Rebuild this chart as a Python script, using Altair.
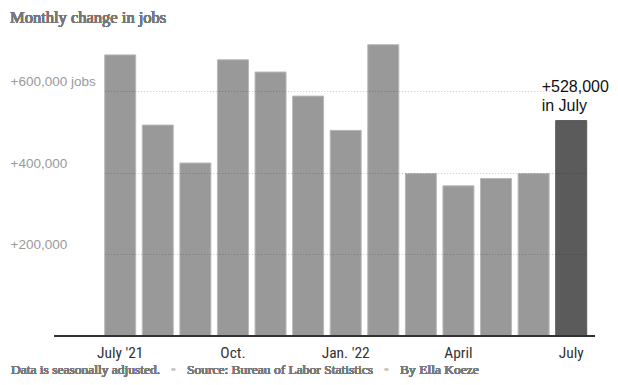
import altair as alt
import pandas as pd

months = ["Jul 2021", "Aug 2021", "Sep 2021", "Oct 2021", "Nov 2021", "Dec 2021",
          "Jan 2022", "Feb 2022", "Mar 2022", "Apr 2022", "May 2022", "Jun 2022", "Jul 2022"]
jobs = [689000, 517000, 424000, 677000, 647000, 588000,
        504000, 714000, 398000, 368000, 386000, 398000, 528000]
highlight = ["past"] * 12 + ["latest"]

tick_months = ["Jul 2021", "Oct 2021", "Jan 2022", "Apr 2022", "Jul 2022"]
tick_labels = ["July '21", "Oct.", "Jan. '22", "April", "July"]
y_ticks = [200000, 400000, 600000]
y_tick_labels = ["+200,000", "+400,000", "+600,000 jobs"]

title_text = "Monthly change in jobs"
annot_lines = ["+528,000", "in July"]
footer_parts = ["Data is seasonally adjusted.", "Source: Bureau of Labor Statistics", "By Ella Koeze"]

df = pd.DataFrame({"month": months, "jobs": jobs, "group": highlight})

sans = "Liberation Sans, Arial, sans-serif"
narrow = "Liberation Sans Narrow, Roboto Condensed, DejaVu Sans Condensed, sans-serif"
serif = "Liberation Serif, Georgia, serif"

x_expr = " : ".join(f"datum.value == '{m}' ? \"{l}\"" for m, l in zip(tick_months, tick_labels)) + " : ''"
y_expr = " : ".join(f"datum.value == {v} ? '{l}'" for v, l in zip(y_ticks, y_tick_labels)) + " : ''"

x_scale = alt.Scale(domain=months, range=[94.7, 576.7], paddingInner=0.175, paddingOuter=0)
y_scale = alt.Scale(domain=[0, 750000], nice=False, zero=True)

x_axis = alt.Axis(title=None, values=tick_months, labelExpr=x_expr, domain=False, ticks=False,
                  labelPadding=9, labelFont=narrow, labelFontSize=15.5, labelColor="#333",
                  labelAngle=0, grid=False)
y_axis = alt.Axis(title=None, values=y_ticks, labelExpr=y_expr, domain=False, ticks=False,
                  labelAlign="left", labelBaseline="alphabetic", labelPadding=0, labelOffset=-5.5,
                  labelFont=sans, labelFontSize=13.5, labelColor="#9a9a9a",
                  grid=True, gridColor="#000", gridOpacity=0.22, gridDash=[1, 2], gridWidth=1,
                  zindex=1)

base = alt.Chart(df)

bars = base.mark_bar(strokeWidth=1).encode(
    x=alt.X("month:N", scale=x_scale, axis=x_axis, sort=months),
    y=alt.Y("jobs:Q", scale=y_scale, axis=y_axis),
    fill=alt.Fill("group:N", scale=alt.Scale(domain=["past", "latest"], range=["#999999", "#5b5b5b"]), legend=None),
    stroke=alt.Stroke("group:N", scale=alt.Scale(domain=["past", "latest"], range=["#b9b9b9", "#5b5b5b"]), legend=None),
)

baseline = base.mark_rule(color="#333", strokeWidth=1.5).encode(
    y=alt.datum(0), x=alt.value(44), x2=alt.value(585)
)

annot = alt.Chart(df[df["group"] == "latest"]).mark_text(
    align="left", baseline="alphabetic", dx=-29.5, dy=-28.5, lineHeight=18.7,
    font=sans, fontSize=16, color="#111"
).encode(
    x=alt.X("month:N", scale=x_scale, sort=months),
    y=alt.Y("jobs:Q", scale=y_scale),
    text=alt.value(annot_lines),
)

title = base.mark_text(align="left", baseline="alphabetic", font=serif, fontSize=16.5,
                       fontWeight="normal", color="#777").encode(
    x=alt.value(0), y=alt.value(-7.5), text=alt.value(title_text)
)

footer_y = 344
foot_style = dict(align="left", baseline="alphabetic", font=serif, fontSize=13.5,
                  fontWeight="normal", color="#7a7a7a")
f1 = base.mark_text(**foot_style).encode(x=alt.value(1), y=alt.value(footer_y), text=alt.value(footer_parts[0]))
f2 = base.mark_text(**foot_style).encode(x=alt.value(177), y=alt.value(footer_y), text=alt.value(footer_parts[1]))
f3 = base.mark_text(**foot_style).encode(x=alt.value(390), y=alt.value(footer_y), text=alt.value(footer_parts[2]))
bullet_style = dict(align="center", baseline="alphabetic", font=sans, fontSize=11, color="#c8c8c8")
b1 = base.mark_text(**bullet_style).encode(x=alt.value(163.5), y=alt.value(footer_y - 1), text=alt.value("•"))
b2 = base.mark_text(**bullet_style).encode(x=alt.value(376.5), y=alt.value(footer_y - 1), text=alt.value("•"))

chart = alt.layer(bars, baseline, annot, title, f1, f2, f3, b1, b2).properties(
    width=600, height=306,
    autosize=alt.AutoSizeParams(type="none"),
    padding={"left": 2, "top": 22, "right": 0, "bottom": 41},
).configure_view(stroke=None).configure_axis(labelFontWeight="normal")

chart.save("out.html", embed_options={"renderer": "svg", "actions": False})
